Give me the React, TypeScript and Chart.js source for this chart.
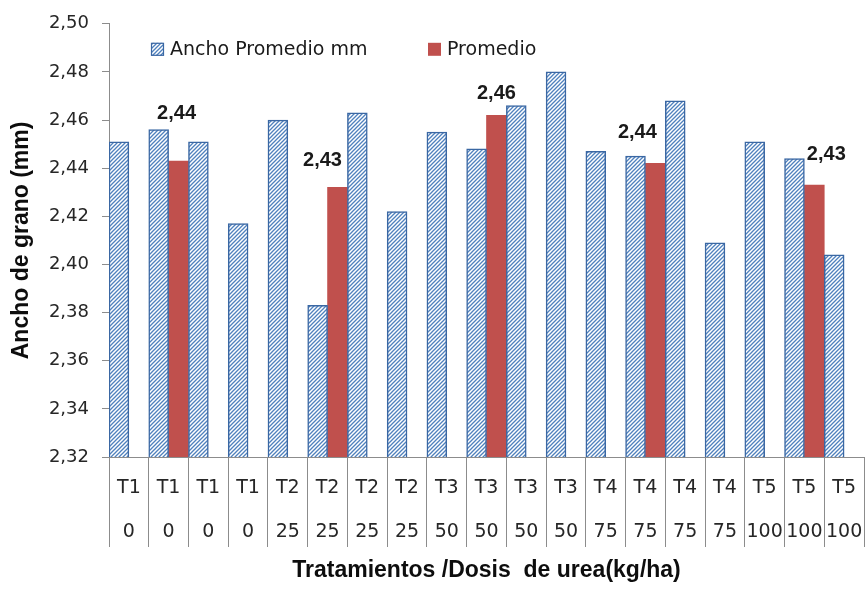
import React, { useEffect, useRef } from 'react';
import { Chart, registerables } from 'chart.js';

Chart.register(...registerables);

const treatments = ['T1', 'T1', 'T1', 'T1', 'T2', 'T2', 'T2', 'T2', 'T3', 'T3', 'T3', 'T3', 'T4', 'T4', 'T4', 'T4', 'T5', 'T5', 'T5'];
const doses = ['0', '0', '0', '0', '25', '25', '25', '25', '50', '50', '50', '50', '75', '75', '75', '75', '100', '100', '100'];
const anchoPromedio = [2.451, 2.456, 2.451, 2.417, 2.46, 2.383, 2.463, 2.422, 2.455, 2.448, 2.466, 2.48, 2.447, 2.445, 2.468, 2.409, 2.451, 2.444, 2.404];
const promedio = [null, 2.443, null, null, null, 2.432, null, null, null, 2.462, null, null, null, 2.442, null, null, null, 2.433, null];
const seriesNames = ['Ancho Promedio mm', 'Promedio'];
const yMin = 2.32;
const yMax = 2.5;
const yStep = 0.02;

const fmt = (v: number) => v.toFixed(2).replace('.', ',');

function makeHatch(): CanvasPattern | string {
  const c = document.createElement('canvas');
  c.width = 4;
  c.height = 4;
  const g = c.getContext('2d');
  if (!g) return '#4f81bd';
  g.fillStyle = '#ffffff';
  g.fillRect(0, 0, 4, 4);
  g.strokeStyle = '#4f81bd';
  g.lineWidth = 1.3;
  g.beginPath();
  g.moveTo(-1, 5);
  g.lineTo(5, -1);
  g.moveTo(-1, 1);
  g.lineTo(1, -1);
  g.moveTo(3, 5);
  g.lineTo(5, 3);
  g.stroke();
  return g.createPattern(c, 'repeat') || '#4f81bd';
}

// label offsets (dx, dy) relative to the top-center of each "Promedio" bar
const labelOffsets: Record<number, [number, number]> = {
  1: [-2, -47],
  5: [-15, -27],
  9: [0, -22],
  13: [-18, -31],
  17: [12, -31],
};

const valueLabelsPlugin = {
  id: 'valueLabels',
  afterDatasetsDraw(chart: any) {
    const ctx = chart.ctx;
    const meta = chart.getDatasetMeta(1);
    const data = chart.data.datasets[1].data;
    ctx.save();
    ctx.font = "bold 20px 'Liberation Sans', Arial, sans-serif";
    ctx.fillStyle = '#1a1a1a';
    ctx.textAlign = 'center';
    ctx.textBaseline = 'middle';
    meta.data.forEach((el: any, i: number) => {
      const v = data[i];
      if (v == null) return;
      const off = labelOffsets[i] || [0, -20];
      ctx.fillText(fmt(v), el.x + off[0], el.y + off[1]);
    });
    ctx.restore();
  },
};

const innerLegendPlugin = {
  id: 'innerLegend',
  afterDraw(chart: any) {
    const ctx = chart.ctx;
    const { left, top } = chart.chartArea;
    const ds = chart.data.datasets;
    const positions = [left + 42, left + 319];
    ctx.save();
    ctx.font = "19px 'DejaVu Sans', sans-serif";
    ctx.textBaseline = 'middle';
    ctx.textAlign = 'left';
    ds.forEach((d: any, i: number) => {
      const bx = positions[i];
      const by = top + 19;
      ctx.fillStyle = d.backgroundColor;
      ctx.fillRect(bx, by, 13, 13);
      if (d.borderWidth) {
        ctx.strokeStyle = d.borderColor;
        ctx.lineWidth = 1.2;
        ctx.strokeRect(bx + 0.5, by + 0.5, 12, 12);
      }
      ctx.fillStyle = '#1a1a1a';
      ctx.fillText(d.label, bx + 19, by + 7);
    });
    ctx.restore();
  },
};

export default function App() {
  const ref = useRef<HTMLCanvasElement | null>(null);

  useEffect(() => {
    if (!ref.current) return;
    const hatch = makeHatch();
    const chart = new Chart(ref.current, {
      type: 'bar',
      data: {
        labels: treatments.map((t, i) => [t, doses[i]]),
        datasets: [
          {
            label: seriesNames[0],
            data: anchoPromedio,
            backgroundColor: hatch as any,
            borderColor: '#3a67a3',
            borderWidth: 1.5,
            categoryPercentage: 1,
            barPercentage: 1,
          },
          {
            label: seriesNames[1],
            data: promedio as any,
            backgroundColor: '#c0504d',
            borderWidth: 0,
            categoryPercentage: 1,
            barPercentage: 1,
          },
        ],
      },
      options: {
        responsive: false,
        animation: false,
        layout: { padding: { top: 18, right: 2, bottom: 0, left: 0 } },
        plugins: {
          legend: { display: false },
          tooltip: { enabled: false },
        },
        scales: {
          x: {
            grid: {
              display: true,
              drawOnChartArea: false,
              drawTicks: true,
              tickLength: 90,
              color: '#8c8c8c',
              offset: true,
            },
            border: { display: true, color: '#8c8c8c', width: 1 },
            ticks: {
              autoSkip: false,
              maxRotation: 0,
              minRotation: 0,
              padding: -81,
              color: '#262626',
              font: { family: "'DejaVu Sans', sans-serif", size: 19, lineHeight: 44 / 19 },
            },
            title: {
              display: true,
              text: 'Tratamientos /Dosis  de urea(kg/ha)',
              color: '#0d0d0d',
              font: { family: "'Liberation Sans', Arial, sans-serif", size: 23, weight: 'bold' },
              padding: { top: 0, bottom: 12 },
            },
            afterFit(scale: any) {
              scale.height = 139;
            },
          },
          y: {
            min: yMin,
            max: yMax,
            grid: {
              display: true,
              drawOnChartArea: false,
              drawTicks: true,
              tickLength: 7,
              color: '#8c8c8c',
            },
            border: { display: true, color: '#8c8c8c', width: 1 },
            ticks: {
              stepSize: yStep,
              padding: 13,
              color: '#262626',
              font: { family: "'DejaVu Sans', sans-serif", size: 18 },
              callback: (v: any) => fmt(Number(v)),
            },
            title: {
              display: true,
              text: 'Ancho de grano (mm)',
              color: '#0d0d0d',
              font: { family: "'Liberation Sans', Arial, sans-serif", size: 23, weight: 'bold' },
              padding: { top: 8, bottom: 0 },
            },
            afterFit(scale: any) {
              scale.width = 109;
            },
          },
        },
      },
      plugins: [valueLabelsPlugin, innerLegendPlugin],
    });
    return () => chart.destroy();
  }, []);

  return (
    <div style={{ position: 'fixed', left: 0, top: 0, width: 866, height: 596, background: '#fff' }}>
      <canvas ref={ref} width={866} height={596} style={{ display: 'block' }} />
    </div>
  );
}
